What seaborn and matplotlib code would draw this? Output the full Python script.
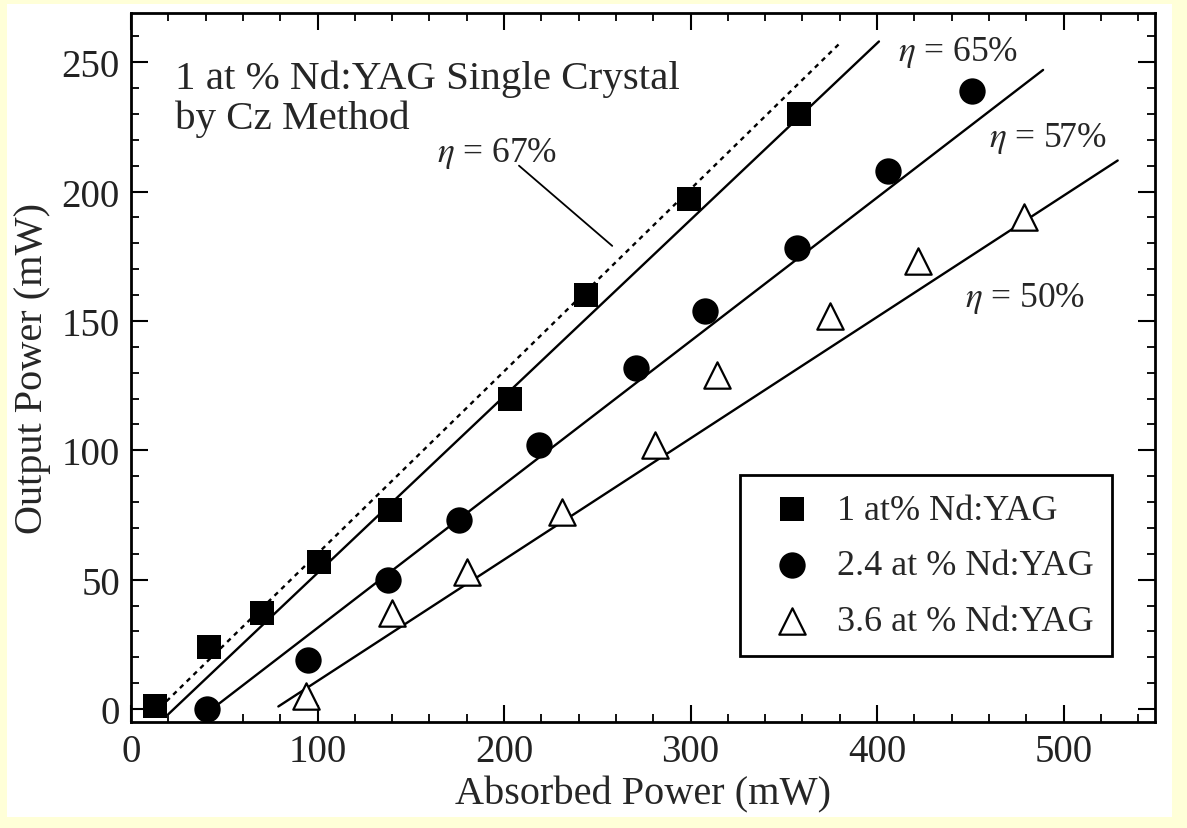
import matplotlib
matplotlib.use('Agg')
import matplotlib.pyplot as plt
from matplotlib.patches import Rectangle
from matplotlib.ticker import MultipleLocator
import pandas as pd
import seaborn as sns

# Data

sq_x = [13, 42, 70, 101, 139, 203, 244, 299, 358]
sq_y = [1, 24, 37, 57, 77, 120, 160, 197, 230]

ci_x = [41, 95, 138, 176, 219, 271, 308, 357, 406, 451]
ci_y = [0, 19, 50, 73, 102, 132, 154, 178, 208, 239]

tr_x = [94, 140, 180, 231, 281, 314, 375, 422, 479]
tr_y = [5, 37, 53, 76, 102, 129, 152, 173, 190]

# fitted lines, end points
fit67_x = [19, 381]
fit67_y = [3, 258]
fit65_x = [20, 401]
fit65_y = [-2, 258]
fit57_x = [38, 489]
fit57_y = [-3, 247]
fit50_x = [79, 529]
fit50_y = [1, 212]

labels = ['1 at% Nd:YAG', '2.4 at % Nd:YAG', '3.6 at % Nd:YAG']

sns.set_style('ticks')
plt.rcParams['font.family'] = ['Liberation Serif', 'DejaVu Serif']
plt.rcParams['mathtext.fontset'] = 'stix'

W, H = 1187, 829
fig = plt.figure(figsize=(W / 100, H / 100), dpi=100)
fig.patch.set_facecolor('#FFFFD8')
fig.patches.append(Rectangle((7 / W, 1 - 818 / H), (1172 - 7) / W, (818 - 5) / H,
                             transform=fig.transFigure, facecolor='white',
                             edgecolor='none', zorder=-1))
ax = fig.add_axes([131 / W, 1 - 723 / H, (1155 - 131) / W, (723 - 14) / H])

sq = pd.DataFrame({'x': sq_x, 'y': sq_y})
ci = pd.DataFrame({'x': ci_x, 'y': ci_y})
tr = pd.DataFrame({'x': tr_x, 'y': tr_y})

for fx, fy, ls in [(fit67_x, fit67_y, (0, (2, 2))), (fit65_x, fit65_y, '-'),
                   (fit57_x, fit57_y, '-'), (fit50_x, fit50_y, '-')]:
    sns.lineplot(x=fx, y=fy, ax=ax, color='black', lw=1.7, linestyle=ls,
                 zorder=2)

sns.scatterplot(data=sq, x='x', y='y', ax=ax, marker='s', s=300,
                color='black', edgecolor='black', linewidth=0, label=labels[0],
                zorder=3)
sns.scatterplot(data=ci, x='x', y='y', ax=ax, marker='o', s=360,
                color='black', edgecolor='black', linewidth=0, label=labels[1],
                zorder=3)
sns.scatterplot(data=tr, x='x', y='y', ax=ax, marker='^', s=360,
                color='white', edgecolor='black', linewidth=1.6,
                label=labels[2], zorder=3)

# leader line for the 67% label
ax.plot([208, 258], [210, 179], color='black', lw=1.3)

fs = 28
ax.text(23.5, 240, '1 at % Nd:YAG Single Crystal', fontsize=29.5,
        va='baseline')
ax.text(23.5, 224.5, 'by Cz Method', fontsize=29.5, va='baseline')
efs = 25.5
ax.text(196, 215, r'$\eta$ = 67%', fontsize=efs, ha='center', va='center')
ax.text(411, 254, r'$\eta$ = 65%', fontsize=efs, va='center')
ax.text(460, 221, r'$\eta$ = 57%', fontsize=efs, va='center')
ax.text(447, 159, r'$\eta$ = 50%', fontsize=efs, va='center')

ax.set_xlim(0, 549)
ax.set_ylim(-5, 269)
ax.xaxis.set_major_locator(MultipleLocator(100))
ax.xaxis.set_minor_locator(MultipleLocator(20))
ax.yaxis.set_major_locator(MultipleLocator(50))
ax.yaxis.set_minor_locator(MultipleLocator(10))
ax.tick_params(which='both', direction='in', top=True, right=True,
               labelsize=fs, color='black', labelcolor='#222222')
ax.tick_params(which='major', length=12, width=1.5, pad=8)
ax.tick_params(which='minor', length=6, width=1.3)
for sp in ax.spines.values():
    sp.set_linewidth(2)
    sp.set_color('black')

ax.set_xlabel('Absorbed Power (mW)', fontsize=29, labelpad=4)
ax.set_ylabel('Output Power (mW)', fontsize=29, labelpad=8)

leg = ax.legend(loc='lower right', bbox_to_anchor=(0.958, 0.093),
                borderaxespad=0, fontsize=26, frameon=True, fancybox=False,
                edgecolor='black', handletextpad=0.3, labelspacing=0.62,
                borderpad=0.5, handlelength=1.9)
leg.get_frame().set_linewidth(2)
leg.get_frame().set_alpha(1)

fig.savefig('out.png', dpi=100, facecolor=fig.get_facecolor())
